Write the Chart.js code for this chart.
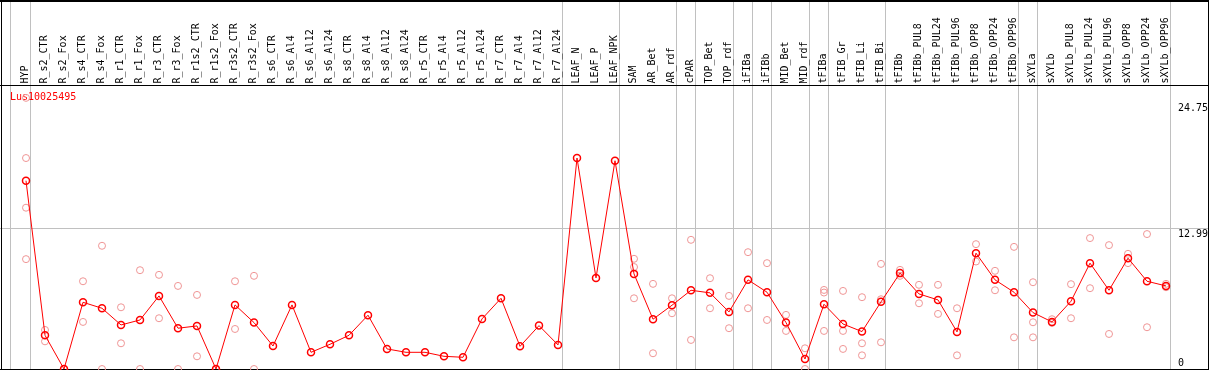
<!DOCTYPE html>
<html><head><meta charset="utf-8">
<script src="https://cdn.jsdelivr.net/npm/chart.js@4.4.0/dist/chart.umd.min.js"></script>
<style>html,body{margin:0;padding:0;background:#fff;overflow:hidden}canvas{display:block}</style>
</head><body>
<canvas id="c" width="1209" height="370" style="width:1209px;height:370px"></canvas>
<script>
const _ = null;
const geneId = 'Lus10025495';
const categories = ['HYP','R_s2_CTR','R_s2_Fox','R_s4_CTR','R_s4_Fox','R_r1_CTR','R_r1_Fox','R_r3_CTR','R_r3_Fox','R_r1s2_CTR','R_r1s2_Fox','R_r3s2_CTR','R_r3s2_Fox','R_s6_CTR','R_s6_Al4','R_s6_Al12','R_s6_Al24','R_s8_CTR','R_s8_Al4','R_s8_Al12','R_s8_Al24','R_r5_CTR','R_r5_Al4','R_r5_Al12','R_r5_Al24','R_r7_CTR','R_r7_Al4','R_r7_Al12','R_r7_Al24','LEAF_N','LEAF_P','LEAF_NPK','SAM','AR_Bet','AR_rdf','cPAR','TOP_Bet','TOP_rdf','iFIBa','iFIBb','MID_Bet','MID_rdf','tFIBa','tFIB_Gr','tFIB_Li','tFIB_Bi','tFIBb','tFIBb_PUL8','tFIBb_PUL24','tFIBb_PUL96','tFIBb_OPP8','tFIBb_OPP24','tFIBb_OPP96','sXYLa','sXYLb','sXYLb_PUL8','sXYLb_PUL24','sXYLb_PUL96','sXYLb_OPP8','sXYLb_OPP24','sXYLb_OPP96'];
const meanValues = [17.36,3.11,0,6.15,5.6,4.06,4.52,6.74,3.76,3.97,
  0,5.91,4.28,2.12,5.91,1.54,2.28,3.11,4.96,1.85,
  1.54,1.54,1.17,1.08,4.62,6.52,2.09,4.0,2.22,19.45,
  8.4,19.2,8.77,4.59,5.88,7.26,7.02,5.26,8.22,7.08,
  4.28,0.92,5.97,4.15,3.45,6.19,8.84,6.92,6.37,3.42,
  10.68,8.22,7.08,5.2,4.34,6.25,9.76,7.26,10.22,8.09,7.66];
const rep1 = [25.0,3.6,0,8.09,11.36,5.69,9.11,8.68,7.66,6.83,
  0,8.09,8.59,_,_,_,_,_,_,_,
  _,_,_,_,_,_,_,_,_,_,
  _,_,10.16,7.85,6.52,11.91,8.37,6.74,10.77,9.76,
  4.99,1.91,7.29,7.2,6.62,9.69,9.14,7.76,7.76,5.6,
  11.51,9.05,11.26,8.0,4.59,7.82,12.07,11.42,10.62,12.44,7.85];
const rep2 = [19.45,2.55,0,4.34,0,2.37,0,4.68,0,1.17,
  0,3.69,0,_,_,_,_,_,_,_,
  _,_,_,_,_,_,_,_,_,_,
  _,_,9.4,1.45,5.14,2.68,5.6,3.76,5.6,4.52,
  3.51,0,7.05,3.51,2.37,6.43,8.59,6.06,5.08,1.26,
  9.91,7.26,2.92,4.31,4.25,4.68,7.45,3.23,9.76,3.85,7.54];
const rep3 = [14.87,_,_,_,_,_,_,_,_,_,
  _,_,_,_,_,_,_,_,_,_,
  _,_,_,_,_,_,_,_,_,_,
  _,_,6.52,_,_,_,_,_,_,_,
  _,_,3.51,1.85,1.26,2.46,_,_,_,_,
  _,_,_,2.92,_,_,_,_,_,_,_];
const rep4 = [10.13,_,_,_,_,_,_,_,_,_,
  _,_,_,_,_,_,_,_,_,_,
  _,_,_,_,_,_,_,_,_,_,
  _,_,_,_,_,_,_,_,_,_,
  _,_,_,_,_,_,_,_,_,_,
  _,_,_,_,_,_,_,_,_,_,_];
const groupBreaks = [0,28,31,34,35,37,38,39,41,42,45,52,53,60];
const yTickValues = [0,12.99,24.75];

const meanPts = meanValues.map((v,i)=>({x:i,y:v}));
const repPts = [];
[rep1,rep2,rep3,rep4].forEach(arr=>arr.forEach((v,i)=>{ if(v!==null) repPts.push({x:i,y:v}); }));

const FONT = "10px 'DejaVu Sans Mono', monospace";
const frame = {
  id:'frame',
  beforeDatasetsDraw(chart){
    const ctx = chart.ctx, xs = chart.scales.x, ys = chart.scales.y;
    const W = chart.width, H = chart.height;
    ctx.save();
    ctx.fillStyle = '#fff'; ctx.fillRect(0,0,W,H);
    // gray grid
    ctx.fillStyle = '#c0c0c0';
    const x0 = Math.round(xs.getPixelForValue(0));
    ctx.fillRect(x0-16,0,1,H);
    groupBreaks.forEach(i=>{ ctx.fillRect(Math.round(xs.getPixelForValue(i))+4,0,1,H); });
    ctx.fillRect(0,Math.round(ys.getPixelForValue(yTickValues[1])),W,1);
    // black frame
    ctx.fillStyle = '#000';
    ctx.fillRect(0,0,W,2);
    ctx.fillRect(1,0,1,H);
    ctx.fillRect(W-1,0,1,H);
    ctx.fillRect(0,85,W,1);
    ctx.fillRect(0,369,W,1);
    // header labels
    ctx.font = FONT; ctx.fillStyle = '#000';
    ctx.textAlign = 'left'; ctx.textBaseline = 'middle';
    categories.forEach((c,i)=>{
      const px = xs.getPixelForValue(i);
      ctx.save(); ctx.translate(px-0.5,83.5); ctx.rotate(-Math.PI/2);
      ctx.fillText(c,0,0); ctx.restore();
    });
    // y labels
    yTickValues.forEach((v,k)=>{
      const py = ys.getPixelForValue(v);
      if (k===0){ ctx.textBaseline='bottom'; ctx.fillText(String(v),1178,py-1); }
      else if (k===yTickValues.length-1){ ctx.textBaseline='top'; ctx.fillText(v.toFixed(2),1178,py+3); }
      else { ctx.textBaseline='top'; ctx.fillText(v.toFixed(2),1178,py+1); }
    });
    // title
    ctx.fillStyle = '#ff0000'; ctx.textBaseline='top';
    ctx.fillText(geneId,10,92);
    ctx.restore();
  }
};

new Chart(document.getElementById('c'), {
  type:'line',
  data:{ datasets:[
    {label:'mean', data:meanPts, borderColor:'#ff0000', borderWidth:1, tension:0,
     pointRadius:3.5, pointBorderWidth:1.5, pointBorderColor:'#ff0000', pointBackgroundColor:'rgba(0,0,0,0)', clip:false, order:1},
    {label:'replicates', data:repPts, showLine:false, borderColor:'#f09696',
     pointRadius:3.5, pointBorderWidth:1, pointBorderColor:'#f09696', pointBackgroundColor:'rgba(0,0,0,0)', clip:false, order:2}
  ]},
  options:{
    responsive:false, animation:false, devicePixelRatio:1,
    layout:{autoPadding:false, padding:{left:7,right:24,top:87,bottom:1}},
    scales:{ x:{type:'linear',min:-1,max:61,display:false}, y:{type:'linear',min:0,max:26,display:false} },
    plugins:{legend:{display:false}, tooltip:{enabled:false}},
    events:[]
  },
  plugins:[frame]
});
</script>
</body></html>
